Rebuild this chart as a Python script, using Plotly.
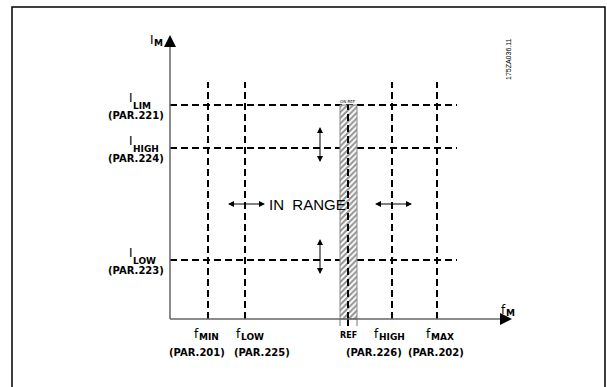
import plotly.graph_objects as go

# ---- data (schematic units: origin at the axes' crossing) ----
freq_symbols = ["f", "f", "f", "f"]
freq_subs = ["MIN", "LOW", "HIGH", "MAX"]
freq_pars = ["(PAR.201)", "(PAR.225)", "(PAR.226)", "(PAR.202)"]
freq_values = [38, 75, 222, 267]

cur_symbols = ["I", "I", "I"]
cur_subs = ["LIM", "HIGH", "LOW"]
cur_pars = ["(PAR.221)", "(PAR.224)", "(PAR.223)"]
cur_values = [214, 171, 59]

ref_value = 178
ref_band = [170, 187]
freq_axis_end = 342
cur_axis_end = 284
vline_top = 237
hline_end = 287

FONT = "DejaVu Sans"
fig = go.Figure()

dash = "7px,4px"
# horizontal dashed current limits
for v in cur_values:
    fig.add_trace(go.Scatter(x=[0, hline_end], y=[v, v], mode="lines",
                             line=dict(color="black", width=2, dash=dash),
                             hoverinfo="skip", showlegend=False))
# hatched REF band
fig.add_trace(go.Scatter(x=[ref_band[0], ref_band[1], ref_band[1], ref_band[0], ref_band[0]],
                         y=[0, 0, cur_values[0], cur_values[0], 0], mode="lines",
                         fill="toself", fillcolor="white",
                         fillpattern=dict(shape="/", size=4, solidity=0.5,
                                          fgcolor="#222", bgcolor="white"),
                         line=dict(color="#888", width=1),
                         hoverinfo="skip", showlegend=False))
fig.add_trace(go.Scatter(x=[ref_value, ref_value], y=[0, cur_values[0]], mode="lines",
                         line=dict(color="black", width=2, dash=dash),
                         hoverinfo="skip", showlegend=False))
# vertical dashed frequency limits
for v in freq_values:
    fig.add_trace(go.Scatter(x=[v, v], y=[0, vline_top], mode="lines",
                             line=dict(color="black", width=2, dash=dash),
                             hoverinfo="skip", showlegend=False))
# REF ticks below axis
for xv, w, c in [(ref_band[0], 1, "#777"), (ref_value, 2, "black"), (ref_band[1], 1, "#777")]:
    fig.add_trace(go.Scatter(x=[xv, xv], y=[0, -7], mode="lines",
                             line=dict(color=c, width=w),
                             hoverinfo="skip", showlegend=False))
# axes
fig.add_trace(go.Scatter(x=[0, freq_axis_end - 10], y=[0, 0], mode="lines",
                         line=dict(color="#666", width=1.5), hoverinfo="skip", showlegend=False))
fig.add_trace(go.Scatter(x=[0, 0], y=[0, cur_axis_end - 10], mode="lines",
                         line=dict(color="#666", width=1.5), hoverinfo="skip", showlegend=False))

ann = []
# axis arrowheads
head = dict(xref="x", yref="y", axref="x", ayref="y", showarrow=True, arrowhead=2,
            arrowsize=1.6, arrowwidth=1.5, arrowcolor="black", text=" ",
            font=dict(family=FONT, size=10))
ann.append(dict(head, x=freq_axis_end, y=0, ax=freq_axis_end - 14, ay=0))
ann.append(dict(head, x=0, y=cur_axis_end, ax=0, ay=cur_axis_end - 14))

sym_font = dict(family=FONT, size=12, color="black")
sub_font = dict(family=FONT, size=9, color="black", weight="bold")
par_font = dict(family=FONT, size=10, color="black", weight="bold")


def sym_label(xl, ysym, ysub, sym, sub, sym_w):
    ann.append(dict(x=xl, y=ysym, text=sym, showarrow=False, xanchor="left",
                    yanchor="middle", font=sym_font, xref="x", yref="y"))
    ann.append(dict(x=xl + sym_w, y=ysub, text=sub, showarrow=False, xanchor="left",
                    yanchor="middle", font=sub_font, xref="x", yref="y"))


# frequency labels
name_dx = [-16, -11, -20, -13]
par_dx = [-11, 17, -18, -1]
for i, v in enumerate(freq_values):
    sym_label(v + name_dx[i], -15, -18, freq_symbols[i], freq_subs[i], 5)
    ann.append(dict(x=v + par_dx[i], y=-33, text=freq_pars[i], showarrow=False,
                    font=par_font, xref="x", yref="y"))
ann.append(dict(x=ref_value, y=-16, text="REF", showarrow=False,
                font=dict(family=FONT, size=8, color="black", weight="bold"), xref="x", yref="y"))
ann.append(dict(x=ref_value, y=cur_values[0] + 4, text="ON REF", showarrow=False,
                font=dict(family=FONT, size=4, color="black"), xref="x", yref="y"))
# current labels
for i, v in enumerate(cur_values):
    sym_label(-43, v + 7, v - 1, cur_symbols[i], cur_subs[i], 4)
    ann.append(dict(x=-4, y=v - 10, text=cur_pars[i], showarrow=False,
                    xanchor="right", font=par_font, xref="x", yref="y"))
# axis names
sym_label(-22, cur_axis_end - 5, cur_axis_end - 8, "I", "M", 4)
sym_label(329, 9, 6, "f", "M", 5)
# IN RANGE
ann.append(dict(x=137, y=115, text="IN\u00a0\u00a0RANGE", showarrow=False,
                font=dict(family="Liberation Sans", size=15, color="black"), xref="x", yref="y"))
# double arrows
arr = dict(xref="x", yref="y", axref="x", ayref="y", showarrow=True, arrowhead=2,
           startarrowhead=2, arrowside="end+start", arrowsize=1.2, startarrowsize=1.2,
           arrowwidth=1, arrowcolor="black", text=" ", font=dict(family=FONT, size=10))
for fv in (freq_values[1], freq_values[2]):
    ann.append(dict(arr, x=fv + 20, y=115, ax=fv - 20, ay=115))
for cv in (cur_values[1], cur_values[2]):
    ann.append(dict(arr, x=150, y=cv + 21, ax=150, ay=cv - 21))
# drawing id
ann.append(dict(x=338, y=260, text="175ZA036.11", textangle=-90, showarrow=False,
                font=dict(family="Liberation Sans", size=7, color="black"), xref="x", yref="y"))

fig.update_layout(
    width=607, height=387, margin=dict(l=0, r=0, t=0, b=0),
    paper_bgcolor="white", plot_bgcolor="white",
    font=dict(family=FONT, size=10, color="black"),
    xaxis=dict(range=[-170, 437], visible=False, fixedrange=True),
    yaxis=dict(range=[-68, 319], visible=False, fixedrange=True),
    annotations=ann,
    shapes=[dict(type="rect", xref="paper", yref="paper",
                 x0=12 / 607, x1=605 / 607, y0=-0.05, y1=1 - 7 / 387,
                 line=dict(color="black", width=1.5))],
    showlegend=False,
)
fig.write_html("out.html", config={"displayModeBar": False},
               post_script="document.body.style.margin='0';document.body.style.overflow='hidden';")
